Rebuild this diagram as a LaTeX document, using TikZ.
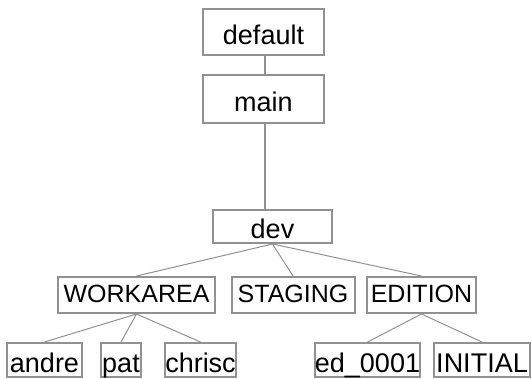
\documentclass[tikz,border=0pt]{standalone}
\usepackage{fontspec}
\setmainfont{Liberation Sans}
\usetikzlibrary{positioning}
\definecolor{boxgray}{RGB}{145,145,145}
\tikzset{
  box/.style={draw=boxgray, line width=2pt, inner sep=0pt, minimum height=#1,
              text height=19pt, text depth=5pt,
              font=\fontsize{25}{25}\selectfont},
  box/.default=36pt,
  big/.style={font=\fontsize{27}{27}\selectfont, text height=27pt, text depth=3pt},
  link/.style={draw=boxgray, line width=1pt},
  stem/.style={draw=boxgray, line width=2pt}
}

\begin{document}
\begin{tikzpicture}[x=1pt,y=-1pt]
  \useasboundingbox (0,0) rectangle (532,378);
  % top of the tree
  \node[box=46pt, big, minimum width=121pt] (default) at (263.5,32) {default};
  \node[box=48pt, big, minimum width=121pt] (main) at (263.5,99) {main};
  \node[box=33pt, big, minimum width=119pt] (dev) at (272.5,226.5) {dev};
  % second row
  \node[box, minimum width=157pt] (workarea) at (136.5,295) {WORKAREA};
  \node[box, minimum width=123pt] (staging) at (293,295) {STAGING};
  \node[box, minimum width=109pt] (edition) at (421.5,295) {EDITION};
  % leaves
  \node[box=34pt, big, minimum width=75pt] (andre) at (44.5,360) {andre};
  \node[box=34pt, big, minimum width=40pt] (pat) at (121,360) {pat};
  \node[box=34pt, big, minimum width=71pt] (chrisc) at (200.5,360) {chrisc};
  \node[box=34pt, big, minimum width=105pt] (ed) at (367.5,360) {ed\_0001};
  \node[box=34pt, big, minimum width=96pt] (initial) at (482,360) {INITIAL};

  \draw[stem] ([xshift=1.5pt]default.south) -- ([xshift=1.5pt]main.north);
  \draw[stem] ([xshift=1pt]main.south) -- ([xshift=1pt]main.south |- dev.north);
  \foreach \c in {workarea,staging,edition}
    \draw[link] (dev.south) -- (\c.north);
  \foreach \c in {andre,pat,chrisc}
    \draw[link] (workarea.south) -- (\c.north);
  \foreach \c in {ed,initial}
    \draw[link] (edition.south) -- (\c.north);
\end{tikzpicture}
\end{document}
